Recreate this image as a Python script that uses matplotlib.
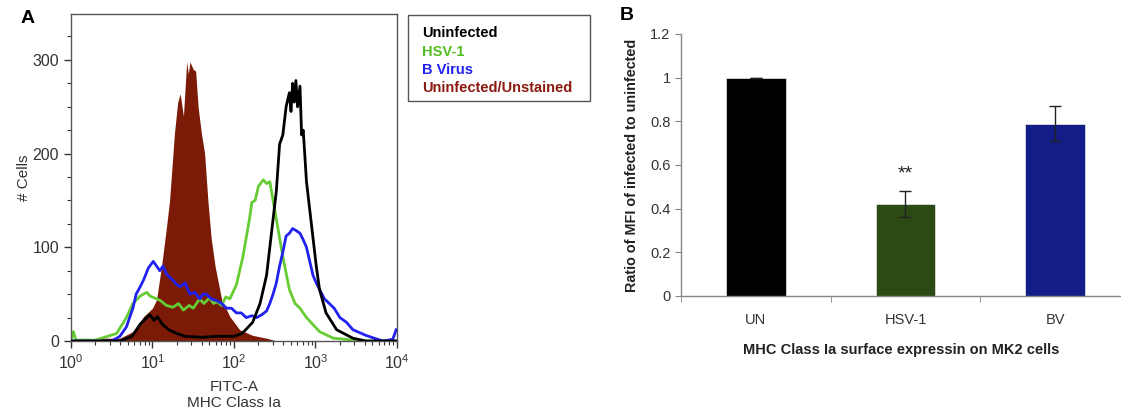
import numpy as np
import matplotlib
matplotlib.use("Agg")
import matplotlib.pyplot as plt
from matplotlib.ticker import MultipleLocator, LogLocator, NullFormatter

plt.rcParams['font.family'] = ['Liberation Sans', 'DejaVu Sans']

# ---- Panel A data (log10 FITC-A, # cells) ----
unst_logx = [0.0, 0.3, 0.36, 0.6, 0.76, 0.89, 1.0, 1.05, 1.11, 1.17, 1.21, 1.27, 1.31, 1.34, 1.38, 1.42,
             1.44, 1.46, 1.5, 1.53, 1.56, 1.6, 1.64, 1.68, 1.72, 1.77, 1.85, 1.95, 2.07, 2.23, 2.4, 2.52, 4.0]
unst_cnt = [0, 0, 3, 3, 10, 26, 35, 44, 79, 120, 150, 222, 255, 264, 240, 298,
            285, 298, 290, 288, 250, 222, 200, 150, 110, 79, 44, 26, 12, 6, 3, 0, 0]

uninf_logx = [0.0, 0.6, 0.75, 0.85, 0.93, 0.97, 1.02, 1.06, 1.12, 1.2, 1.3, 1.4, 1.6, 1.8, 2.0, 2.1,
              2.23, 2.32, 2.4, 2.48, 2.52, 2.56, 2.6, 2.64, 2.68, 2.7, 2.72, 2.74, 2.76, 2.78, 2.81,
              2.83, 2.85, 2.89, 2.93, 2.97, 3.01, 3.05, 3.13, 3.26, 3.46, 3.62, 4.0]
uninf_cnt = [0, 0, 5, 18, 25, 28, 22, 26, 18, 12, 8, 5, 4, 5, 5, 8,
             20, 40, 70, 130, 160, 210, 220, 250, 265, 245, 275, 255, 278, 250, 272,
             220, 225, 170, 140, 110, 80, 55, 30, 12, 3, 0, 0]

hsv_logx = [0.0, 0.03, 0.06, 0.3, 0.56, 0.68, 0.76, 0.85, 0.93, 0.97, 1.05, 1.1, 1.17, 1.25, 1.32,
            1.38, 1.45, 1.5, 1.58, 1.63, 1.7, 1.75, 1.79, 1.85, 1.9, 1.95, 2.03, 2.11, 2.15, 2.19,
            2.22, 2.26, 2.3, 2.36, 2.4, 2.44, 2.48, 2.52, 2.6, 2.68, 2.75, 2.81, 2.89, 3.05, 3.22, 3.46, 3.6, 4.0]
hsv_cnt = [0, 10, 1, 1, 8, 25, 40, 48, 52, 48, 45, 43, 38, 36, 40,
           33, 38, 35, 45, 40, 46, 40, 42, 38, 47, 45, 60, 90, 110, 130,
           148, 150, 165, 172, 168, 170, 150, 130, 90, 55, 40, 35, 25, 10, 3, 1, 0, 0]

bv_logx = [0.0, 0.5, 0.6, 0.68, 0.76, 0.8, 0.85, 0.89, 0.95, 1.01, 1.05, 1.09, 1.13, 1.17, 1.21,
           1.25, 1.3, 1.34, 1.4, 1.46, 1.52, 1.58, 1.62, 1.66, 1.72, 1.79, 1.85, 1.91, 1.97, 2.03,
           2.09, 2.15, 2.22, 2.28, 2.34, 2.4, 2.44, 2.48, 2.52, 2.56, 2.6, 2.64, 2.68, 2.72, 2.76,
           2.81, 2.85, 2.89, 2.93, 2.97, 3.01, 3.05, 3.11, 3.17, 3.23, 3.3, 3.38, 3.46, 3.54, 3.62,
           3.72, 3.83, 3.9, 3.95, 3.99]
bv_cnt = [0, 0, 5, 15, 35, 50, 58, 65, 78, 85, 80, 75, 80, 72, 68,
          65, 60, 58, 62, 50, 52, 45, 50, 50, 45, 43, 40, 35, 35, 30,
          30, 25, 27, 25, 28, 32, 40, 50, 62, 80, 95, 112, 115, 120, 118,
          115, 108, 100, 85, 70, 62, 55, 45, 40, 35, 25, 20, 12, 9, 6,
          3, 0, 1, 2, 12]

# ---- Panel B data ----
categories = ["UN", "HSV-1", "BV"]
ratios = [1.0, 0.42, 0.79]
errors = [0.0, 0.06, 0.08]
bar_colors = ["#000000", "#2b4a14", "#131d87"]

fig = plt.figure(figsize=(11.21, 4.12), dpi=100)

# ---------------- Panel A ----------------
axA = fig.add_axes([0.0633, 0.1723, 0.2908, 0.7937])
xs = lambda lx: 10 ** np.array(lx)
axA.fill_between(xs(unst_logx), unst_cnt, color="#7b1a06", lw=0, zorder=1)
axA.plot(xs(hsv_logx), hsv_cnt, color="#66cc33", lw=2.0, zorder=2)
axA.plot(xs(bv_logx), bv_cnt, color="#2222ee", lw=2.0, zorder=3)
axA.plot(xs(uninf_logx), uninf_cnt, color="#000000", lw=2.0, zorder=4)
axA.set_xscale("log")
axA.set_xlim(1, 1e4)
axA.set_ylim(0, 349)
axA.yaxis.set_major_locator(MultipleLocator(100))
axA.yaxis.set_minor_locator(MultipleLocator(25))
axA.xaxis.set_major_locator(LogLocator(base=10))
axA.xaxis.set_minor_locator(LogLocator(base=10, subs=np.arange(2, 10)))
axA.xaxis.set_minor_formatter(NullFormatter())
axA.tick_params(axis="both", which="major", direction="out", length=5, width=1, labelsize=11.5,
                colors="#333333", labelcolor="#333333")
axA.tick_params(axis="both", which="minor", direction="out", length=3, width=0.8, colors="#333333")
for s in axA.spines.values():
    s.set_color("#555555")
    s.set_linewidth(1.0)
axA.set_ylabel("# Cells", fontsize=11, color="#333333", labelpad=1)
axA.set_xlabel("FITC-A\nMHC Class Ia", fontsize=11, color="#333333", labelpad=6, linespacing=1.2)

fig.text(0.018, 0.955, "A", fontsize=14, fontweight="bold", va="center", ha="left")

# Legend box
leg_items = [("Uninfected", "#000000"), ("HSV-1", "#55bb22"),
             ("B Virus", "#2222ee"), ("Uninfected/Unstained", "#8b1a10")]
box = plt.Rectangle((408 / 1121, 1 - 101 / 412), (590 - 408) / 1121, (101 - 15) / 412,
                    transform=fig.transFigure, fill=False, edgecolor="#555555", lw=1.0)
fig.add_artist(box)
for i, (t, c) in enumerate(leg_items):
    fig.text(422 / 1121, 1 - (33 + i * 18.5) / 412, t, color=c, fontsize=10.5,
             fontweight="bold", va="center", ha="left")

# ---------------- Panel B ----------------
axB = fig.add_axes([0.6075, 0.2816, 0.3925, 0.6359])
xpos = np.arange(len(categories))
axB.bar(xpos, ratios, width=0.4, color=bar_colors, edgecolor="#dddddd", linewidth=0.6, zorder=2)
axB.errorbar(xpos, ratios, yerr=errors, fmt="none", ecolor="#222222", elinewidth=1.0,
             capsize=4, capthick=1.0, zorder=3)
axB.text(xpos[1], ratios[1] + errors[1] + 0.04, "**", ha="center", va="bottom", fontsize=14,
         color="#222222")
axB.set_xlim(-0.5, 2.44)
axB.set_ylim(0, 1.2)
axB.set_yticks([0, 0.2, 0.4, 0.6, 0.8, 1.0, 1.2])
axB.set_yticklabels(["0", "0.2", "0.4", "0.6", "0.8", "1", "1.2"])
axB.set_xticks(xpos)
axB.set_xticklabels(categories)
axB.set_xticks([-0.5, 0.5, 1.5], minor=True)
axB.tick_params(axis="x", which="major", length=0, pad=12, labelsize=10.5, labelcolor="#333333")
axB.tick_params(axis="x", which="minor", direction="out", length=4, color="#888888")
axB.tick_params(axis="y", which="major", direction="out", length=4, color="#888888",
                labelsize=10.5, labelcolor="#333333")
for side in ["top", "right"]:
    axB.spines[side].set_visible(False)
for side in ["left", "bottom"]:
    axB.spines[side].set_color("#888888")
    axB.spines[side].set_linewidth(1.0)
axB.set_ylabel("Ratio of MFI of infected to uninfected", fontsize=10.4, fontweight="bold",
               color="#222222", labelpad=8)
axB.set_xlabel("MHC Class Ia surface expressin on MK2 cells", fontsize=10.5, fontweight="bold",
               color="#222222", labelpad=12)

fig.text(0.553, 0.963, "B", fontsize=14, fontweight="bold", va="center", ha="left")

fig.savefig("out.png", dpi=100)
